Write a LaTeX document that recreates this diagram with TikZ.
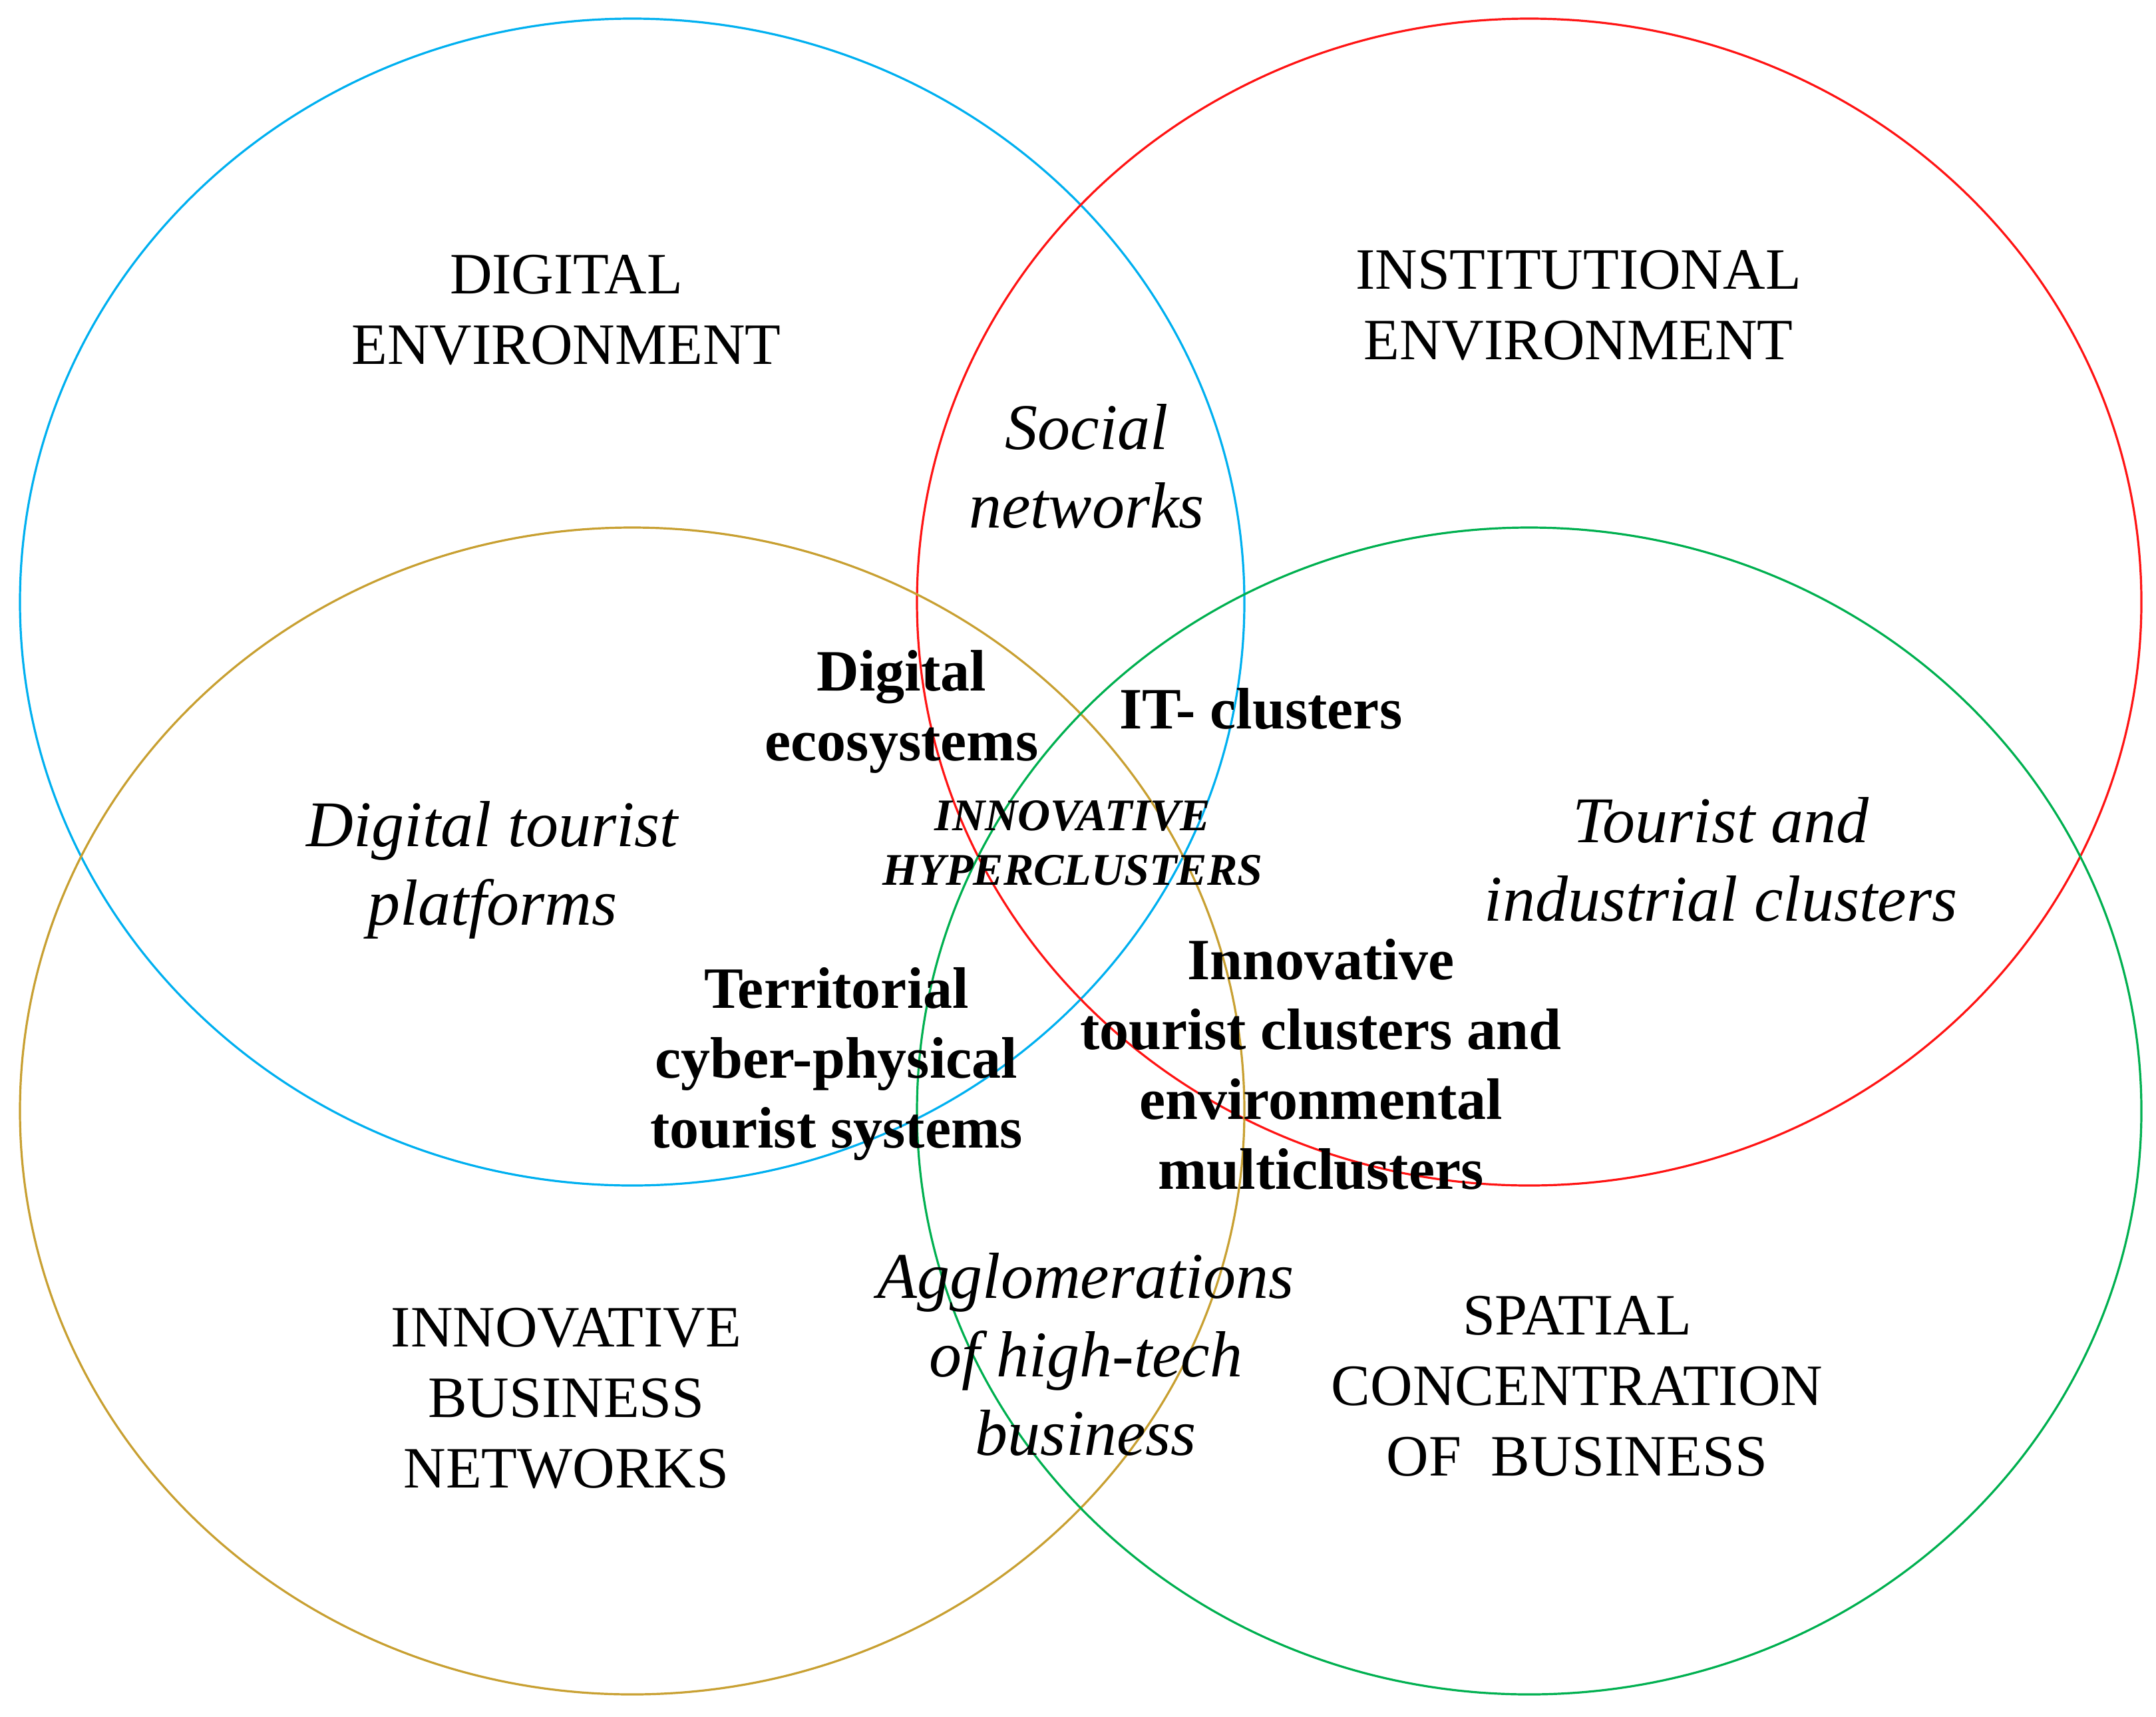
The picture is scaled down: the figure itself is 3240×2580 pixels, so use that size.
\documentclass[tikz,border=0pt]{standalone}
\usepackage{fontspec}
\setmainfont{Liberation Serif}
\definecolor{ringblue}{RGB}{0,176,240}
\definecolor{ringred}{RGB}{255,20,20}
\definecolor{ringgold}{RGB}{200,160,50}
\definecolor{ringgreen}{RGB}{0,176,80}
\tikzset{
  ring/.style={line width=0.8pt},
  lbl/.style={align=center, anchor=base, inner sep=0pt},
  capslabel/.style={lbl, font=\fontsize{22pt}{26.5pt}\selectfont},
  itlabel/.style={lbl, font=\fontsize{24.5pt}{29.5pt}\selectfont\itshape},
  boldlabel/.style={lbl, font=\fontsize{22pt}{26.25pt}\selectfont\bfseries},
  hyperlabel/.style={lbl, font=\fontsize{17pt}{20.5pt}\selectfont\bfseries\itshape},
}
\begin{document}
\begin{tikzpicture}[x=0.25pt, y=-0.25pt]
\useasboundingbox[fill=white] (0,0) rectangle (3240,2580);
% circles
\draw[ring, ringblue]  (950,905)   ellipse [x radius=920, y radius=877];
\draw[ring, ringred]   (2298,905)  ellipse [x radius=920, y radius=877];
\draw[ring, ringgold]  (950,1670)  ellipse [x radius=920, y radius=877];
\draw[ring, ringgreen] (2298,1670) ellipse [x radius=920, y radius=877];
% main labels (anchor = baseline of last line)
\node[capslabel] (digenv)  at (851,547)   {DIGITAL\\ENVIRONMENT};
\node[capslabel] (instenv) at (2372,540)  {INSTITUTIONAL\\ENVIRONMENT};
\node[capslabel] (innobus) at (851,2236)  {INNOVATIVE\\BUSINESS\\NETWORKS};
\node[capslabel] (spatial) at (2370,2218) {SPATIAL\\CONCENTRATION\\OF\ \ BUSINESS};
% pairwise overlaps
\node[itlabel] (social)  at (1633,793)  {Social\\networks};
\node[itlabel] (digtour) at (740,1390)  {Digital tourist\\platforms};
\node[itlabel] (tourind) at (2586,1384) {Tourist and\\industrial clusters};
\node[itlabel] (agglo)   at (1632,2187) {Agglomerations\\of high-tech\\business};
% triple overlaps
\node[boldlabel] (digeco)   at (1355,1143) {Digital\\ecosystems};
\node[boldlabel] (itcl)     at (1895,1095) {IT- clusters};
\node[boldlabel] (territ)   at (1257,1725) {Territorial\\cyber-physical\\tourist systems};
\node[boldlabel] (innotour) at (1985,1787) {Innovative\\tourist clusters and\\environmental\\multiclusters};
% centre
\node[hyperlabel] (hyper) at (1612,1330) {INNOVATIVE\\HYPERCLUSTERS};
\end{tikzpicture}
\end{document}
